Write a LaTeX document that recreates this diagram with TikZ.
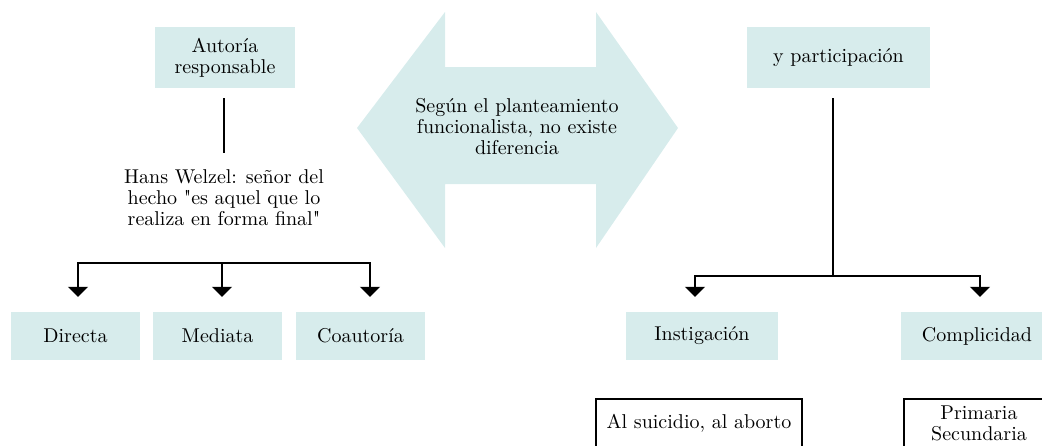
\documentclass[tikz,border=0pt]{standalone}
\usepackage{fontspec}
\setmainfont{lmroman10-regular.otf}[Ligatures=TeXOff]
\definecolor{boxteal}{RGB}{215, 236, 236}
\usepackage{tikz}
\usetikzlibrary{arrows.meta, positioning, calc}

\begin{document}
\begin{tikzpicture}[x=1pt, y=-1pt,
  every node/.style={font=\fontsize{20}{21}\selectfont, inner sep=0pt},
  tealbox/.style={fill=boxteal, minimum height=48pt, align=center},
  linebox/.style={draw, line width=1.1pt, minimum height=48pt, align=center},
  conn/.style={line width=1.1pt},
  tip/.style={conn, -{Triangle[width=20pt, length=10pt]}}]
  \useasboundingbox (0, 0) rectangle (1042, 445);
  \clip (0, 0) rectangle (1042, 445);

  % Middle double arrow
  \fill[boxteal] (357, 128) -- (445, 12) -- (445, 67) -- (596, 67) -- (596, 12) -- (678, 128)
    -- (596, 248) -- (596, 184) -- (445, 184) -- (445, 248) -- cycle;
  \node[align=center] (seg) at (517, 127) {Según el planteamiento\\funcionalista, no existe\\diferencia};

  % Left: autoria
  \node[tealbox, minimum width=140pt, minimum height=61pt] (aut) at (225, 57.5) {Autoría\\responsable};
  \node[align=center] (hans) at (224, 198) {Hans Welzel: señor del\\hecho "es aquel que lo\\realiza en forma final"};
  \draw[conn, shorten <=10pt, shorten >=17pt] ([xshift=-1pt]aut.south) -- ([xshift=0pt]hans.north);

  \node[tealbox, minimum width=129pt] (dir) at (75.5, 336) {Directa};
  \node[tealbox, minimum width=129pt] (med) at (217.5, 336) {Mediata};
  \node[tealbox, minimum width=129pt] (coa) at (360.5, 336) {Coautoría};

  \coordinate (splitL) at (222, 263);
  \draw[tip, shorten >=15pt] (splitL) -| ([xshift=2.5pt]dir.north);
  \draw[tip, shorten >=15pt] (splitL) -- ([xshift=4.5pt]med.north);
  \draw[tip, shorten >=15pt] (splitL) -| ([xshift=9.5pt]coa.north);

  % Right: participacion
  \node[tealbox, minimum width=183pt, minimum height=61pt] (part) at (838.5, 57.5) {y participación};
  \coordinate (splitR) at (833, 276);
  \draw[conn, shorten <=10pt] ([xshift=-5.5pt]part.south) -- (splitR);

  \node[tealbox, minimum width=152pt] (ins) at (702, 336) {Instigación};
  \node[tealbox, minimum width=152pt] (com) at (977, 336) {Complicidad};
  \draw[tip, shorten >=15pt] (splitR) -| ([xshift=-7pt]ins.north);
  \draw[tip, shorten >=15pt] (splitR) -| ([xshift=3pt]com.north);

  % Bottom boxes
  \node[linebox, minimum width=206pt] (sui) at (699, 423) {Al suicidio, al aborto};
  \node[linebox, minimum width=150pt] (gra) at (979, 423) {Primaria\\Secundaria};
\end{tikzpicture}
\end{document}
